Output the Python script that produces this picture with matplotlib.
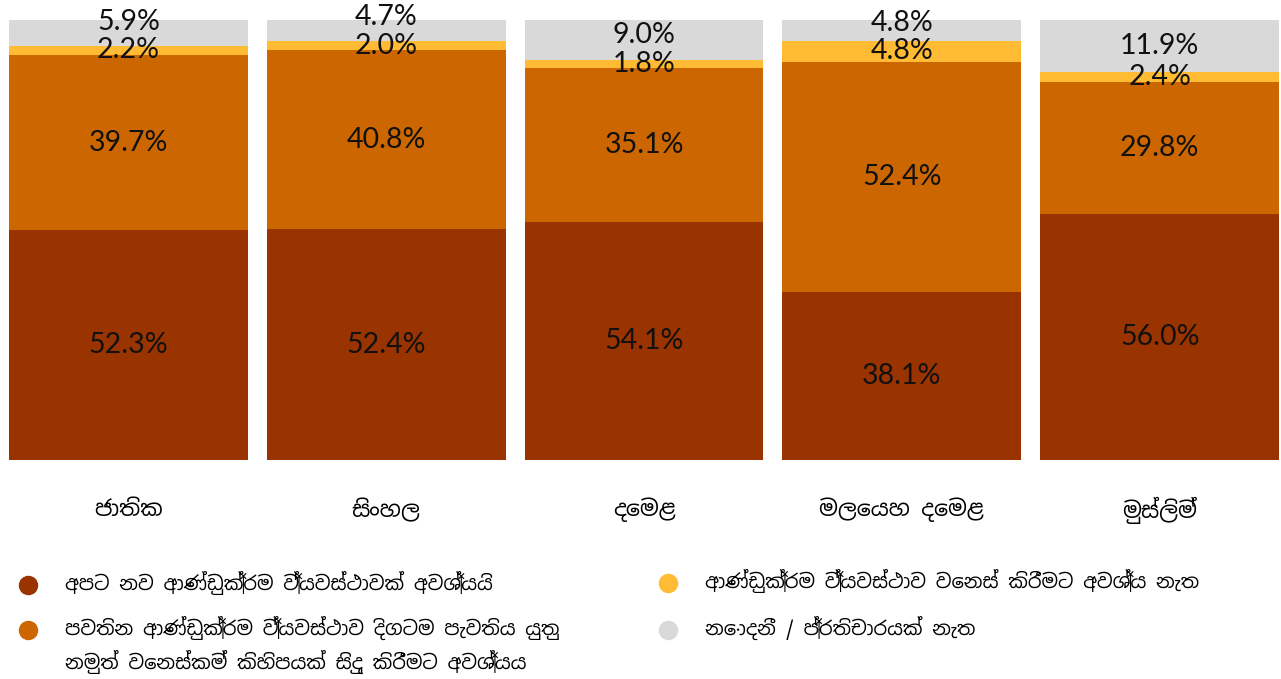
import matplotlib
matplotlib.use("Agg")
import numpy as np
import matplotlib.pyplot as plt
from matplotlib.lines import Line2D

# -----------------------------
# Data
# -----------------------------
categories = ["ජාතික", "සිංහල", "දෙමළ", "මලෙයහ දෙමළ", "මුස්ලිම්"]
series_names = [
    "අපට නව ආණ්ඩුක්‍රම ව්‍යවස්ථාවක් අවශ්‍යයි",
    "පවතින ආණ්ඩුක්‍රම ව්‍යවස්ථාව දිගටම පැවතිය යුතු\nනමුත් වෙනස්කම් කිහිපයක් සිදු කිරීමට අවශ්‍යය",
    "ආණ්ඩුක්‍රම ව්‍යවස්ථාව වෙනස් කිරීමට අවශ්‍ය නැත",
    "නොදනී / ප්‍රතිචාරයක් නැත",
]
new_constitution = [52.3, 52.4, 54.1, 38.1, 56.0]
keep_but_change = [39.7, 40.8, 35.1, 52.4, 29.8]
no_change = [2.2, 2.0, 1.8, 4.8, 2.4]
dont_know = [5.9, 4.7, 9.0, 4.8, 11.9]

colors = ["#993300", "#CC6600", "#FFBB33", "#D9D9D9"]

sinhala = ["Noto Sans Sinhala", "Noto Sans", "DejaVu Sans"]
num_font = ["Lato", "DejaVu Sans"]

# -----------------------------
# Figure
# -----------------------------
fig = plt.figure(figsize=(12.81, 6.79), dpi=100)
ax = fig.add_axes([9 / 1281, 1 - 460 / 679, 1270 / 1281, 440 / 679])

x = np.arange(len(categories))
width = 0.926
series = [new_constitution, keep_but_change, no_change, dont_know]

bottom = np.zeros(len(categories))
centers = []
for vals, col in zip(series, colors):
    vals = np.array(vals)
    ax.bar(x, vals, width, bottom=bottom, color=col, clip_on=False)
    centers.append(bottom + vals / 2)
    bottom = bottom + vals

# value labels, nudging the two small top segments apart
for i in range(len(categories)):
    ys = [c[i] for c in centers]
    ys[3] = max(ys[3], ys[2] + 6.5)
    for k in range(4):
        ax.text(x[i], ys[k], f"{series[k][i]:.1f}%", ha="center", va="center",
                fontsize=20.5, family=num_font, color="#111111")

ax.set_xlim(-width / 2, len(categories) - 1 + width / 2)
ax.set_ylim(0, 100)
ax.axis("off")

# category labels under the bars
for i, cat in enumerate(categories):
    xf = ax.transData.transform((x[i], 0))[0] / fig.bbox.width
    fig.text(xf, 1 - 510 / 679, cat, ha="center", va="center",
             fontsize=16, family=sinhala)

# legend (two columns, dots + text)
leg_pos = [(28, 585), (28, 630), (668, 583), (668, 630)]
for k, (px, py) in enumerate(leg_pos):
    fig.add_artist(Line2D([px / 1281], [1 - py / 679], marker="o", markersize=13,
                          color=colors[k], linestyle="none", transform=fig.transFigure))
    for j, line in enumerate(series_names[k].split("\n")):
        fig.text((px + 37) / 1281, 1 - (py - 2 + j * 34) / 679, line, ha="left",
                 va="center", fontsize=14, family=sinhala)

fig.savefig("out.png", dpi=100, facecolor="white")
